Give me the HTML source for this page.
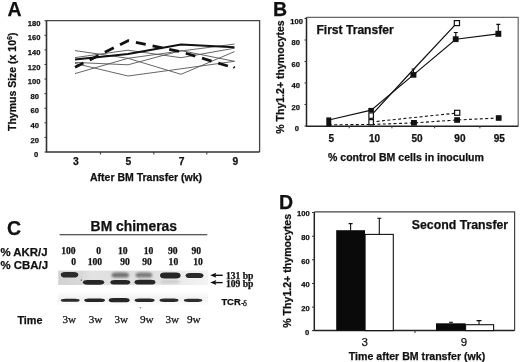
<!DOCTYPE html>
<html><head><meta charset="utf-8">
<style>
html,body{margin:0;padding:0;background:#fff;}
body{width:520px;height:362px;overflow:hidden;}
svg{display:block;filter:grayscale(1);}
text{font-family:"Liberation Sans",sans-serif;font-weight:bold;fill:#111;stroke:#111;stroke-width:0.25px;}
.serif{font-family:"Liberation Serif",serif;}
.nb{font-weight:normal;}
</style></head>
<body>
<svg width="520" height="362" viewBox="0 0 520 362">
<rect width="520" height="362" fill="#fff"/>

<!-- ================= PANEL A ================= -->
<text x="7.5" y="15.6" font-size="19.5">A</text>
<!-- box -->
<path d="M46.5 20.6 H259.6 V152" fill="none" stroke="#444" stroke-width="1.3"/>
<path d="M46.5 20.6 V152 H259.6" fill="none" stroke="#333" stroke-width="1.6"/>
<!-- y ticks -->
<g stroke="#333" stroke-width="1">
<path d="M44.5 20.71H46.5M44.5 35.30H46.5M44.5 49.88H46.5M44.5 64.47H46.5M44.5 79.06H46.5M44.5 93.65H46.5M44.5 108.24H46.5M44.5 122.82H46.5M44.5 137.41H46.5M44.5 152.00H46.5"/>
<path d="M100.4 152V154.5M153.8 152V154.5M206.8 152V154.5"/>
</g>
<g font-size="7.6" text-anchor="middle">
<text x="34.1" y="25.8">180</text>
<text x="34.1" y="40.4">160</text>
<text x="34.1" y="55.0">140</text>
<text x="34.1" y="69.6">120</text>
<text x="34.1" y="84.2">100</text>
<text x="34.65" y="98.7">80</text>
<text x="34.65" y="113.3">60</text>
<text x="34.65" y="127.9">40</text>
<text x="34.65" y="142.5">20</text>
<text x="36.1" y="157.1">0</text>
</g>
<g font-size="10.3" text-anchor="middle">
<text x="75.8" y="165.4">3</text>
<text x="128.4" y="165.4">5</text>
<text x="181.6" y="165.4">7</text>
<text x="235.4" y="165.4">9</text>
</g>
<text x="90" y="180.7" font-size="10.5">After BM Transfer (wk)</text>
<text transform="translate(16.2 131) rotate(-90)" font-size="10.5">Thymus Size (x 10<tspan dy="-4.2" font-size="7.2">6</tspan><tspan dy="4.2">)</tspan></text>
<!-- data lines -->
<g fill="none" stroke-linejoin="round">
<g stroke="#555" stroke-width="0.9">
<polyline points="75,50.6 128,58.3 181,74.3 234.5,51.6"/>
<polyline points="75,57.6 128,50.2 181,57.7 234.5,48.2"/>
<polyline points="75,62.4 128,64.8 181,50.6 234.5,61.3"/>
<polyline points="75,63.4 128,76.0 181,68.8 234.5,61.3"/>
<polyline points="75,73.6 128,58.3 181,51.0 234.5,44.1"/>
</g>
<polyline points="75,59.5 128,54 181,44.4 234.5,47.2" stroke="#111" stroke-width="2"/>
<polyline points="75,67.3 128,40.7 181,51.8 234.5,68" stroke="#111" stroke-width="2.8" stroke-dasharray="10,7" stroke-dashoffset="0.6"/>
<path d="M233.6 66.9L234.6 67.9" stroke="#111" stroke-width="2.2"/>
</g>

<!-- ================= PANEL B ================= -->
<text x="273" y="15.5" font-size="19.5">B</text>
<path d="M306.5 17.3 H518.2 V126.2" fill="none" stroke="#666" stroke-width="1.2"/>
<path d="M306.5 17.3 V126.2 H518.2" fill="none" stroke="#222" stroke-width="1.5"/>
<g stroke="#333" stroke-width="1">
<path d="M304.5 18.5H306.5M304.5 40H306.5M304.5 61.5H306.5M304.5 83H306.5M304.5 104.5H306.5M304.5 126H306.5"/>
<path d="M349.2 126V128.3M391.9 126V128.3M434.6 126V128.3M479.9 126V128.3"/>
</g>
<g font-size="7.6" text-anchor="middle">
<text x="296.6" y="23.5">100</text>
<text x="295.8" y="45.0">80</text>
<text x="295.8" y="66.5">60</text>
<text x="295.8" y="88.1">40</text>
<text x="295.8" y="109.6">20</text>
<text x="296.9" y="131.1">0</text>
</g>
<g font-size="10" text-anchor="middle">
<text x="331.3" y="142">5</text>
<text x="374.5" y="142">10</text>
<text x="417" y="142">50</text>
<text x="459.9" y="142">90</text>
<text x="499.3" y="142">95</text>
</g>
<text x="328" y="160.8" font-size="10.55">% control BM cells in inoculum</text>
<text x="316.4" y="33.6" font-size="12.1">First Transfer</text>
<text transform="translate(284.2 133.8) rotate(-90)" font-size="10.55">% Thy1.2+ thymocytes</text>
<!-- error bars -->
<g stroke="#111" stroke-width="1.2" fill="none">
<path d="M455.8 39.2V32.5M453.8 32.5H457.8"/>
<path d="M498.3 33.8V24.4M496.3 24.4H500.3"/>
<path d="M413.4 74.9V69M411.6 69H415.2"/>
</g>
<!-- solid lines -->
<g fill="none" stroke="#111" stroke-width="1.2">
<polyline points="328.8,120 371.2,110.2 413.4,74.9 455.8,39.2 498.3,33.8"/>
<polyline points="371.2,115.3 413.4,69.5 456.8,23.1"/>
</g>
<g fill="none" stroke="#111" stroke-width="1.1" stroke-dasharray="3,2.4">
<polyline points="328.8,124.8 371.2,124.5 414,122.9 457,120 498.8,118"/>
<polyline points="371.2,122 457.3,113"/>
</g>
<!-- markers -->
<g fill="#111">
<rect x="326.3" y="117.4" width="5" height="8.8"/>
<rect x="368.3" y="107.9" width="5.6" height="4.6"/>
<rect x="410.4" y="72.1" width="6" height="5.6"/>
<rect x="452.8" y="36.3" width="5.8" height="5.8"/>
<rect x="495.4" y="30.8" width="5.9" height="6"/>
<rect x="411" y="120" width="5.9" height="5.6"/>
<rect x="454.2" y="117.2" width="5.8" height="5.6"/>
<rect x="495.8" y="115.2" width="5.8" height="5.6"/>
</g>
<g fill="#fff" stroke="#111" stroke-width="1.2">
<rect x="368.9" y="112.9" width="4.5" height="5.4"/>
<rect x="368.9" y="119.6" width="4.5" height="5.2"/>
<rect x="454.3" y="20.6" width="5.2" height="5"/>
<rect x="454.6" y="110.3" width="5.2" height="5"/>
</g>

<!-- ================= PANEL C ================= -->
<text x="7" y="235" font-size="19.5">C</text>
<text x="90.6" y="231.3" font-size="13.9">BM chimeras</text>
<path d="M59.6 234.8H207.3" stroke="#222" stroke-width="1.1"/>
<text x="0.5" y="256.2" font-size="11.4">% AKR/J</text>
<text x="0.5" y="268.6" font-size="11.4">% CBA/J</text>
<g class="serif" font-size="9.6" text-anchor="end">
<text class="serif" x="75.6" y="253.7">100</text>
<text class="serif" x="101.1" y="253.7">0</text>
<text class="serif" x="127.6" y="253.7">10</text>
<text class="serif" x="153.4" y="253.7">10</text>
<text class="serif" x="177.6" y="253.7">90</text>
<text class="serif" x="201.1" y="253.7">90</text>
<text class="serif" x="76" y="264.7">0</text>
<text class="serif" x="102.1" y="264.7">100</text>
<text class="serif" x="129.8" y="264.7">90</text>
<text class="serif" x="151.8" y="264.7">90</text>
<text class="serif" x="178.2" y="264.7">10</text>
<text class="serif" x="202.9" y="264.7">10</text>
</g>
<!-- gel -->
<defs><linearGradient id="gbg" x1="0" x2="1" y1="0" y2="0">
<stop offset="0" stop-color="#d2d2d2"/><stop offset="0.15" stop-color="#d8d8d8"/><stop offset="0.22" stop-color="#e3e3e3"/><stop offset="0.4" stop-color="#dedede"/><stop offset="0.62" stop-color="#e0e0e0"/><stop offset="0.8" stop-color="#ebebeb"/><stop offset="1" stop-color="#f4f4f4"/></linearGradient>
<filter id="bl" x="-20%" y="-50%" width="140%" height="200%"><feGaussianBlur stdDeviation="0.45"/></filter><filter id="bl2" x="-30%" y="-80%" width="160%" height="260%"><feGaussianBlur stdDeviation="0.9"/></filter></defs>
<rect x="58.2" y="270.6" width="150" height="14.4" fill="url(#gbg)"/>
<linearGradient id="gbg2" x1="0" x2="0" y1="0" y2="1"><stop offset="0" stop-color="#fff"/><stop offset="0.45" stop-color="#f1f1f1"/><stop offset="1" stop-color="#fff"/></linearGradient>
<rect x="58" y="292" width="150" height="14" fill="url(#gbg2)"/>
<circle cx="140.4" cy="307.7" r="0.8" fill="#888"/>
<circle cx="81.3" cy="280.1" r="0.7" fill="#333"/>
<g filter="url(#bl2)">
<rect x="111.5" y="272.4" width="17.5" height="5.2" rx="4.5" ry="2.6" fill="#727272"/>
<rect x="135.5" y="272.4" width="16.8" height="5.2" rx="4.5" ry="2.6" fill="#7a7a7a"/>
<rect x="160.5" y="280" width="19.5" height="3.6" rx="4.5" ry="1.8" fill="#cdcdcd"/>
</g>
<g filter="url(#bl)">
<rect x="60.8" y="271.9" width="17.5" height="5.6" rx="4.5" ry="2.8" fill="#2b2b2b"/>
<rect x="82.9" y="279.9" width="21.3" height="4.9" rx="4.5" ry="2.45" fill="#262626"/>

<rect x="110.4" y="279.9" width="19.8" height="4.6" rx="4.5" ry="2.3" fill="#262626"/>

<rect x="134.6" y="279.8" width="20.8" height="4.7" rx="4.5" ry="2.35" fill="#262626"/>
<rect x="160" y="272.4" width="20.6" height="6.0" rx="4.5" ry="3.0" fill="#262626"/>

<rect x="185.6" y="273" width="17.9" height="5.1" rx="4.5" ry="2.55" fill="#2b2b2b"/>
<rect x="60.8" y="298.7" width="18.8" height="3.1" rx="4.5" ry="1.7" fill="#2a2a2a"/>
<rect x="84.2" y="298.4" width="20.8" height="3.6" rx="4.5" ry="2.05" fill="#262626"/>
<rect x="108.8" y="298" width="20.8" height="4.3" rx="4.5" ry="2.5" fill="#262626"/>
<rect x="134.6" y="298.5" width="20.0" height="3.5" rx="4.5" ry="1.95" fill="#2a2a2a"/>
<rect x="159.5" y="298.6" width="19.0" height="3.3" rx="4.5" ry="1.85" fill="#2a2a2a"/>
<rect x="183.8" y="298.8" width="18.5" height="3.1" rx="4.5" ry="1.7" fill="#2e2e2e"/>
</g>
<!-- arrows -->
<g stroke="#111" stroke-width="1.4" fill="#111">
<path d="M214 275.3H222.7"/><path d="M210.2 275.3L216.3 272.8L215.2 275.3L216.3 277.8Z" stroke="none"/>
<path d="M214 282.6H222.7"/><path d="M210.2 282.6L216.3 280.1L215.2 282.6L216.3 285.1Z" stroke="none"/>
</g>
<text class="serif" x="226" y="278.7" font-size="9.6">131 bp</text>
<text class="serif" x="226" y="287" font-size="9.6">109 bp</text>
<text x="221.4" y="304.7" font-size="9.4">TCR</text><text x="241.3" y="304.5" font-size="7">-</text><text class="serif nb" x="242.8" y="306.2" font-size="9">δ</text>
<text x="17.4" y="323.8" font-size="10.8">Time</text>
<g font-size="11.2" font-weight="normal">
<text class="serif nb" x="62.4" y="323">3w</text>
<text class="serif nb" x="88.7" y="323">3w</text>
<text class="serif nb" x="114.4" y="323">3w</text>
<text class="serif nb" x="140" y="323">9w</text>
<text class="serif nb" x="165.5" y="323">3w</text>
<text class="serif nb" x="187" y="323">9w</text>
</g>

<!-- ================= PANEL D ================= -->
<text x="279" y="209.3" font-size="19.5">D</text>
<path d="M314.3 211.9 H514.6 V330.6" fill="none" stroke="#444" stroke-width="1.2"/>
<path d="M314.3 211.9 V330.6 H514.6" fill="none" stroke="#222" stroke-width="1.5"/>
<g stroke="#333" stroke-width="1">
<path d="M312 212.5H314.3M312 236.2H314.3M312 259.8H314.3M312 283.5H314.3M312 307.1H314.3M312 330.6H314.3"/>
<path d="M415 330.6V333"/>
</g>
<g font-size="7.6" text-anchor="end">
<text x="309.7" y="216.0">100</text>
<text x="309.7" y="239.8">80</text>
<text x="309.7" y="263.5">60</text>
<text x="309.7" y="287.3">40</text>
<text x="309.7" y="311.0">20</text>
<text x="309.2" y="334.8">0</text>
</g>
<!-- bars -->
<rect x="336.2" y="230.2" width="28.8" height="100.4" fill="#0a0a0a"/>
<rect x="365.1" y="234.4" width="28.2" height="96.2" fill="#fff" stroke="#111" stroke-width="1.1"/>
<rect x="436" y="323.3" width="29.6" height="7.3" fill="#0a0a0a"/>
<rect x="465.6" y="324.7" width="28" height="5.9" fill="#fff" stroke="#111" stroke-width="1.1"/>
<g stroke="#111" stroke-width="1.1" fill="none">
<path d="M350.6 230.5V223.6M348.6 223.6H352.6"/>
<path d="M379.3 234.4V218.2M377.3 218.2H381.3"/>
<path d="M479 324.7V320.6M476.5 320.6H481.5"/>
<path d="M451 323.3V322.3M449 322.3H453"/>
</g>
<g font-size="11.5" font-weight="normal" text-anchor="middle">
<text class="nb" x="364.6" y="346.3">3</text>
<text class="nb" x="464" y="346.3">9</text>
</g>
<text x="348.8" y="359.6" font-size="10.6">Time after BM transfer (wk)</text>
<text x="411.8" y="228.9" font-size="12.3">Second Transfer</text>
<text transform="translate(291.2 327.8) rotate(-90)" font-size="10.6">% Thy1.2+ thymocytes</text>
</svg>
</body></html>
